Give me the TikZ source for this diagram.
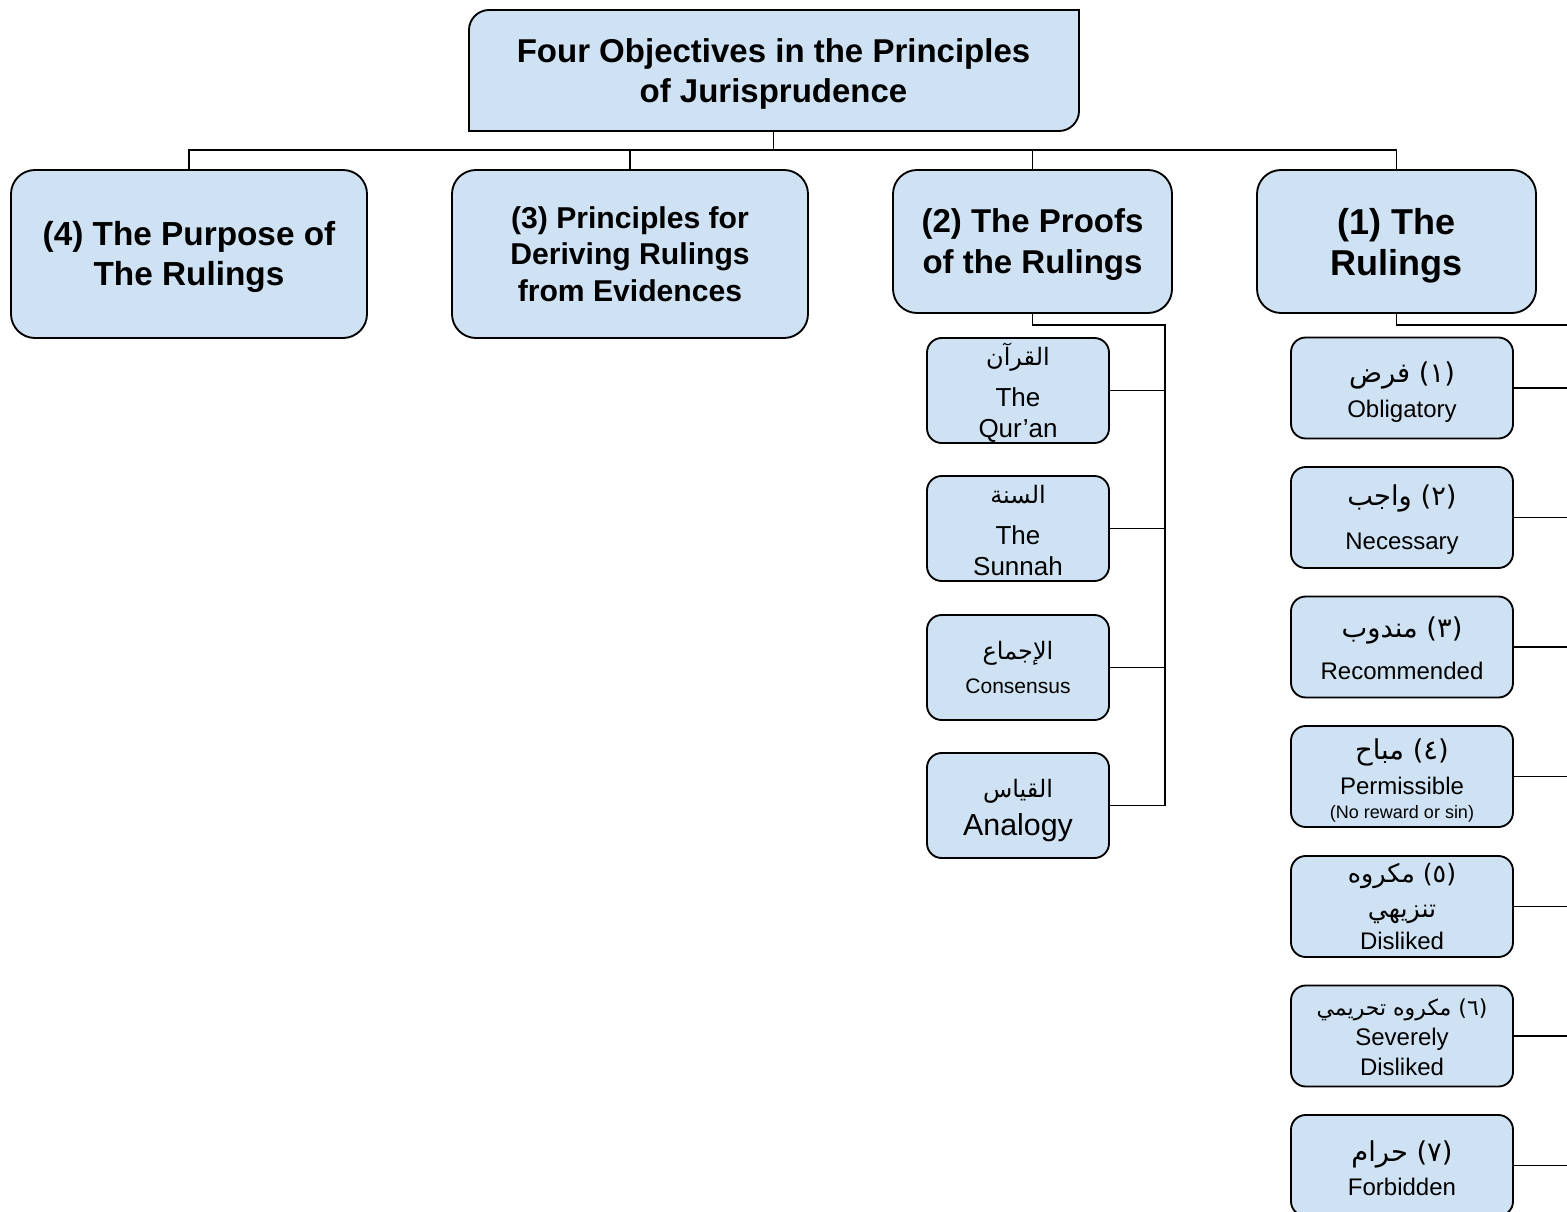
\documentclass[tikz,border=0pt]{standalone}
\usepackage{fontspec}
\setmainfont{Liberation Sans}
\newfontfamily\arabicfont[Script=Arabic]{DejaVu Sans}
\TeXXeTstate=1
\usetikzlibrary{calc}
\definecolor{boxblue}{HTML}{CFE2F3}
\newcommand{\ar}[1]{{\arabicfont\beginR #1\endR}}
\newcommand{\fsz}[2]{\fontsize{#1}{#2}\selectfont}
\newcommand{\st}[1]{\rule{0pt}{#1}}
\begin{document}
\begin{tikzpicture}[x=0.75pt,y=-0.75pt,
  boxline/.style={draw=black,line width=1.4pt},
  bigbox/.style={boxline,fill=boxblue,rectangle,rounded corners=18pt,inner sep=0pt,align=center},
  pbox/.style={boxline,fill=boxblue,rectangle,rounded corners=11pt,inner sep=0pt,align=center,
    minimum width=136.5pt,minimum height=78.75pt,font=\fsz{19.5}{24}},
  rbox/.style={boxline,fill=boxblue,rectangle,rounded corners=11pt,inner sep=0pt,align=center,
    minimum width=166.5pt,minimum height=75.75pt,font=\fsz{18}{26}},
  conn/.style={draw=black,line width=1.3pt},
  thinconn/.style={draw=black,line width=0.9pt}]
\fill[white] (0,0) rectangle (1567,1212);
\clip (0,0) rectangle (1567,1212);
% top box
\filldraw[boxline,fill=boxblue] (469,131) -- (469,30) .. controls (469,19) and (478,10) .. (489,10)
  -- (1079,10) -- (1079,111) .. controls (1079,122) and (1070,131) .. (1059,131) -- cycle;
\node[align=center,font=\bfseries\fsz{24.75}{30.5},minimum width=457.5pt,minimum height=90.75pt,inner sep=0pt]
  (top) at (773.5,70.5) {\st{22.95pt}Four Objectives in the Principles\\of Jurisprudence};
% level 1
\node[bigbox,minimum width=267pt,minimum height=126pt,font=\bfseries\fsz{25}{30}] (b4) at (189,254)
  {\st{22.15pt}(4) The Purpose of\\The Rulings};
\node[bigbox,minimum width=267pt,minimum height=126pt,font=\bfseries\fsz{22.6}{27.4}] (b3) at (630,254)
  {(3) Principles for\\Deriving Rulings\\from Evidences};
\node[bigbox,minimum width=209.25pt,minimum height=107.25pt,font=\bfseries\fsz{24.75}{30.45}] (b2) at (1032.5,241.5)
  {\st{22.4pt}(2) The Proofs\\of the Rulings};
\node[bigbox,minimum width=209.25pt,minimum height=107.25pt,font=\bfseries\fsz{27}{30.75}] (b1) at (1396.5,241.5)
  {\st{26.5pt}(1) The\\Rulings};
% proofs
\node[pbox] (p1) at (1018,390.5) {\st{20.8pt}\smash{\fsz{18}{24}\ar{القرآن}}\\[6.75pt]The\\[-0.75pt]Qur’an};
\node[pbox] (p2) at (1018,528.5) {\st{16.9pt}{\fsz{18}{24}\ar{السنة}}\\[6.75pt]The\\[-0.75pt]Sunnah};
\node[pbox] (p3) at (1018,667.5) {{\fsz{18}{24}\ar{الإجماع}}\\[2pt]{\fsz{15.75}{20}Consensus}};
\node[pbox] (p4) at (1018,805.5) {\st{21.4pt}{\fsz{18}{24}\ar{القياس}}\\[4pt]{\fsz{22.8}{26}Analogy}};
% rulings
\node[rbox] (r1) at (1402,388) {\st{21.9pt}{\fsz{20.5}{26}\ar{(١) فرض}}\\Obligatory};
\node[rbox] (r2) at (1402,517.5) {\st{18.9pt}{\fsz{20.5}{26}\ar{(٢) واجب}}\\[6.5pt]Necessary};
\node[rbox] (r3) at (1402,647) {\st{17.4pt}{\fsz{20.5}{26}\ar{(٣) مندوب}}\\[5pt]Recommended};
\node[rbox] (r4) at (1402,776.5) {\st{21.15pt}{\fsz{20.5}{26}\ar{(٤) مباح}}\\[0.75pt]Permissible\\[-8.5pt]{\fsz{13.5}{16}(No reward or sin)}};
\node[rbox] (r5) at (1402,906.5) {{\fsz{19}{26}\ar{(٥) مكروه}}\\{\fsz{19}{26}\ar{تنزيهي}}\\[-2pt]Disliked};
\node[rbox] (r6) at (1402,1036) {\st{13.7pt}{\fsz{16.5}{26}\ar{(٦) مكروه تحريمي}}\\[-3pt]Severely\\[-4pt]Disliked};
\node[rbox] (r7) at (1402,1165.5) {\st{19.65pt}{\fsz{20.5}{26}\ar{(٧) حرام}}\\[-0.75pt]Forbidden};
% connectors
\coordinate (bus) at (773.5,150);
\draw[conn] (top.south) -- (bus);
\draw[conn] (b4.north) |- (bus) -- (b2.north |- bus) -- (b2.north);
\draw[thinconn] (b2.north |- bus) -| (b1.north);
\draw[conn] (b3.north) -- (b3.north |- bus);
\coordinate (t2) at (1165,325);
\draw[conn] (b2.south) |- (t2) -- (t2 |- p4.east) -- (p4.east);
\foreach \n in {p1,p2,p3} \draw[conn] (\n.east) -- (\n.east -| t2);
\coordinate (t1) at (1600,325);
\draw[conn] (b1.south) |- (t1);
\foreach \n in {r1,r2,r3,r4,r5,r6,r7} \draw[conn] (\n.east) -- (\n.east -| t1);
\end{tikzpicture}
\end{document}
